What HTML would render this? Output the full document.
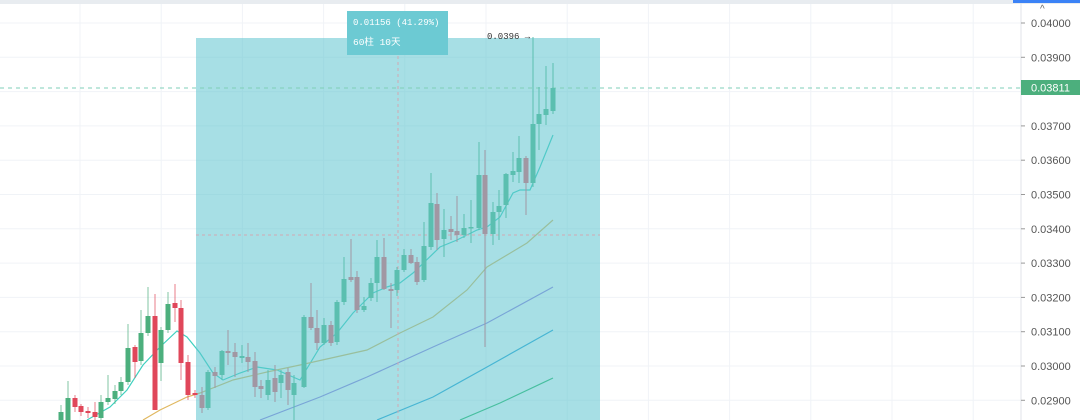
<!DOCTYPE html>
<html><head><meta charset="utf-8"><style>
html,body{margin:0;padding:0;background:#fff;width:1080px;height:420px;overflow:hidden;font-family:"Liberation Sans","Noto Sans CJK SC",sans-serif}
svg{display:block}
</style></head><body>
<svg id="c" width="1080" height="420" xmlns="http://www.w3.org/2000/svg">
<rect x="0" y="0" width="1080" height="420" fill="#fff"/>
<rect x="0" y="0" width="1080" height="4" fill="#e8ecf0"/>
<g id="grid" stroke="#f0f3f7" stroke-width="1"></g>
<g id="ma" fill="none" stroke-width="1.2"></g>
<rect x="196" y="38" width="404" height="382" fill="#5fc4d0" fill-opacity="0.55"/>
<line x1="0" y1="88" x2="1021" y2="88" stroke="#7fcfb8" stroke-width="1" stroke-dasharray="4,4"/>
<line x1="398" y1="38" x2="398" y2="420" stroke="#d2a9b4" stroke-width="1" stroke-dasharray="3,3"/>
<line x1="196" y1="235" x2="600" y2="235" stroke="#d2a9b4" stroke-width="1" stroke-dasharray="3,3"/>
<g id="cd"></g>
<rect x="347" y="11" width="101" height="44" fill="#6ccad3"/>
<text x="353" y="25" fill="#fff" font-family="Liberation Mono,monospace" font-size="9">0.01156 (41.29%)</text>
<text x="353" y="45" fill="#fff" font-family="Liberation Mono,'Noto Sans CJK SC',monospace" font-size="9.5">60柱 10天</text>
<text x="487" y="39" fill="#333" font-family="Liberation Mono,monospace" font-size="9">0.0396 →</text>
<line x1="1021" y1="0" x2="1021" y2="420" stroke="#e0e3e8"/>
<rect x="1013" y="0" width="67" height="3" fill="#3b82f6"/>
<text x="1040" y="12" fill="#666" font-size="10">^</text>
<g id="ax" font-size="11" fill="#555"></g>
<rect x="1021" y="80" width="59" height="15" fill="#4caf7d"/>
<text x="1031" y="91.5" fill="#fff" font-size="11">0.03811</text>
</svg>
<script>
var NS="http://www.w3.org/2000/svg";
function el(p,t,a){var e=document.createElementNS(NS,t);for(var k in a)e.setAttribute(k,a[k]);p.appendChild(e);return e;}
var g=document.getElementById('grid'),ax=document.getElementById('ax');
for(var i=0;i<12;i++){var x=80+i*81.2;el(g,'line',{x1:x,y1:4,x2:x,y2:420});}
var labs=['0.04000','0.03900','0.03800','0.03700','0.03600','0.03500','0.03400','0.03300','0.03200','0.03100','0.03000','0.02900'];
for(var i=0;i<12;i++){var y=23+i*34.3;el(g,'line',{x1:0,y1:y,x2:1021,y2:y});
 if(i!=2){el(ax,'line',{x1:1021,y1:y,x2:1025,y2:y,stroke:'#999'});var t=el(ax,'text',{x:1031,y:y+4});t.textContent=labs[i];}}
var C=[
[61,412,420,405,420,'g'],[68,398,420,381,420,'g'],[75,398,407,395,412,'r'],[81,406,412,404,416,'r'],[88,411,413,407,418,'r'],[95,412,417,402,420,'r'],
[101,402,418,395,420,'g'],[108,398,402,375,405,'g'],[115,391,399,385,404,'g'],[121,382,391,377,395,'g'],[128,348,382,324,385,'g'],[135,347,362,345,378,'r'],
[141,333,361,310,365,'g'],[148,316,333,287,336,'g'],[155,316,410,294,410,'r'],[161,330,363,327,381,'g'],[168,304,330,292,333,'g'],[175,303,308,284,322,'r'],
[181,308,363,300,380,'r'],[188,362,395,355,400,'r'],[195,393,395,390,398,'r'],
[202,395,408,387,413,'d'],[208,372,408,370,410,'u'],[215,372,376,367,388,'d'],[222,351,375,350,380,'u'],[228,351,353,330,365,'d'],[235,352,357,343,377,'d'],
[242,356,358,345,363,'u'],[248,357,362,343,372,'d'],[255,361,387,352,397,'d'],[261,386,389,380,398,'d'],[268,380,395,370,400,'u'],[275,378,392,365,402,'d'],
[281,375,383,370,398,'u'],[288,372,390,368,405,'d'],[294,383,395,375,420,'u'],
[304,317,387,315,388,'u'],[311,317,328,283,330,'d'],[317,328,343,310,350,'d'],[324,325,343,318,345,'u'],[331,325,343,321,346,'d'],[337,302,342,300,345,'u'],
[344,279,302,257,305,'u'],[351,277,280,239,282,'d'],[357,277,310,271,313,'d'],[364,306,310,297,312,'u'],[371,283,298,278,301,'u'],[377,257,283,240,302,'u'],
[384,257,289,238,290,'d'],[391,289,291,283,328,'d'],[397,270,290,267,296,'u'],[404,255,270,249,272,'u'],[411,255,263,249,264,'d'],[417,262,282,257,285,'d'],
[424,246,280,222,282,'u'],[431,203,247,173,250,'u'],[437,204,240,193,250,'d'],[444,230,239,209,257,'u'],[451,229,232,216,240,'d'],[457,231,235,196,242,'d'],
[464,228,235,214,238,'u'],[471,227,228,200,243,'u'],[479,175,228,142,230,'u'],[485,175,234,150,347,'d'],[493,212,234,202,245,'u'],[499,206,212,190,240,'u'],
[506,174,205,173,218,'u'],[513,171,175,152,182,'u'],[519,158,172,136,183,'u'],[526,158,183,156,215,'d'],[533,124,183,37,187,'u'],[539,114,124,87,150,'u'],
[546,109,115,66,125,'u'],[553,88,111,63,114,'u']];
var col={g:'#4caf7d',r:'#e0475a',u:'#5bbfb0',d:'#a197a3'};
var cd=document.getElementById('cd');
C.forEach(function(c){var x=c[0],f=col[c[5]];
 el(cd,'line',{x1:x,y1:c[3],x2:x,y2:c[4],stroke:f,'stroke-width':1,opacity:(c[5]=='g'||c[5]=='r')?0.7:1});
 el(cd,'rect',{x:x-2.5,y:c[1],width:5,height:Math.max(1.5,c[2]-c[1]),fill:f});});
var M=[
['#3fd0bf','87,420 110,407 127,390 143,365 160,347 177,331 187,337 200,353 213,373 223,380 240,373 257,367 277,370 293,377 300,380 320,347 337,333 353,313 373,293 387,287 400,283 413,273 440,247 457,240 477,230 487,227 500,217 513,193 520,190 530,190 540,167 553,135'],
['#e0b860','143,420 160,410 187,397 200,393 233,380 267,372 300,365 367,350 400,333 433,317 467,290 487,267 527,243 553,220'],
['#9a7fe0','260,420 320,397 367,377 433,347 487,323 553,287'],
['#2aa3d8','377,420 433,397 487,367 553,330'],
['#2bb865','460,420 500,403 553,378']];
var ma=document.getElementById('ma');
M.forEach(function(m){el(ma,'polyline',{points:m[1],stroke:m[0]});});
</script>
</body></html>
